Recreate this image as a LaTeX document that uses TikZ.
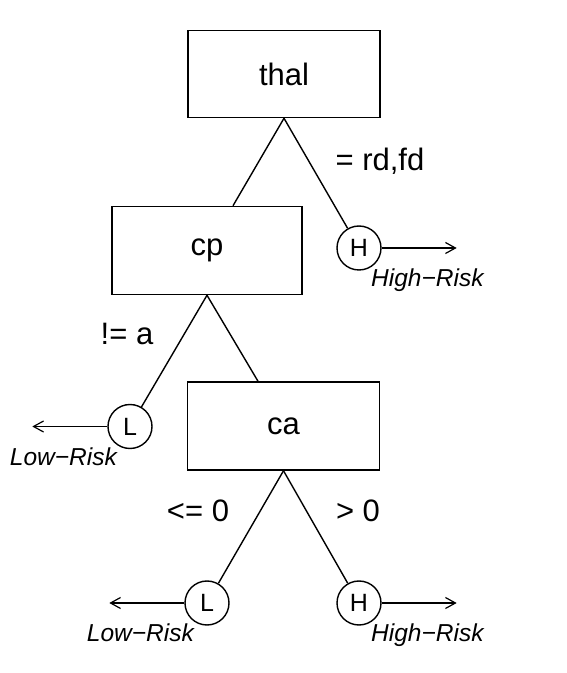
\documentclass[tikz,border=0pt]{standalone}
\usepackage{fontspec}
\setmainfont{Liberation Sans}
\usetikzlibrary{arrows.meta}

\tikzset{
  testbox/.style={draw, line width=1.5pt, minimum width=192pt, minimum height=87pt, inner sep=0pt, font=\fontsize{31}{37}\selectfont},
  leaf/.style={draw, circle, line width=1.4pt, minimum size=44pt, inner sep=0pt, font=\fontsize{25}{30}\selectfont},
  branch/.style={line width=1.4pt},
  outarrow/.style={line width=1.2pt, -{Straight Barb[length=10pt,width=11pt]}},
  cond/.style={font=\fontsize{31}{37}\selectfont, inner sep=0pt, anchor=base},
  risk/.style={font=\fontsize{24.5}{29}\selectfont\itshape, inner sep=0pt},
}

\begin{document}
\begin{tikzpicture}[x=1pt,y=1pt]
        % Fix the page size
        \useasboundingbox (0,0) rectangle (566,673);
        % Draw test boxes
        \node[testbox] (thal) at (284,599) {thal};
        \node[testbox, minimum width=190pt, minimum height=88pt] (cp) at (207,422.5) {cp};
        \node[testbox, minimum height=88pt] (ca) at (283.5,247) {ca};
        % Draw leaves
        \node[leaf] (H1) at (359,425) {H};
        \node[leaf] (L1) at (130,246.5) {L};
        \node[leaf] (L2) at (207,70) {L};
        \node[leaf] (H2) at (359,70) {H};
        % Draw branches
        \draw[branch] (thal.south) -- ([xshift=26pt]cp.north);
        \draw[branch] (thal.south) -- (H1);
        \draw[branch] (cp.south) -- (L1);
        \draw[branch] (cp.south) -- ([xshift=-25.5pt]ca.north);
        \draw[branch] (ca.south) -- (L2);
        \draw[branch] (ca.south) -- (H2);
        % Draw branch conditions
        \node[cond] (thalcond) at (380,502.3) {= rd,fd};
        \node[cond] (cpcond) at (127,328) {!= a};
        \node[cond] (caleft) at (198,151.3) {<= 0};
        \node[cond] (caright) at (358,151.3) {> 0};
        % Draw outcome arrows
        \coordinate (H1out) at ([xshift=75pt]H1.east);
        \coordinate (L1out) at ([xshift=-75pt]L1.west);
        \coordinate (L2out) at ([xshift=-75pt]L2.west);
        \coordinate (H2out) at ([xshift=75pt]H2.east);
        \draw[outarrow] (H1) -- (H1out);
        \draw[outarrow] (L1) -- (L1out);
        \draw[outarrow] (L2) -- (L2out);
        \draw[outarrow] (H2) -- (H2out);
        % Draw outcome labels
        \node[risk, anchor=base west] (H1risk) at ([shift={(12,-39)}]H1.center) {High−Risk};
        \node[risk, anchor=base east] (L1risk) at ([shift={(-13,-39)}]L1.center) {Low−Risk};
        \node[risk, anchor=base east] (L2risk) at ([shift={(-13,-39)}]L2.center) {Low−Risk};
        \node[risk, anchor=base west] (H2risk) at ([shift={(12,-39)}]H2.center) {High−Risk};
\end{tikzpicture}
\end{document}
